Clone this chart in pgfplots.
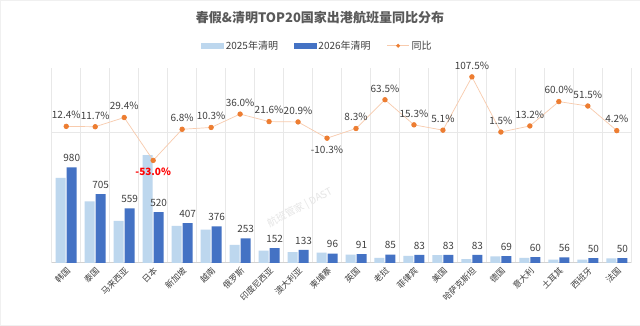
\documentclass[border=0pt]{standalone}
\usepackage{pgfplots}
\pgfplotsset{compat=1.18}
\usepackage{fontspec}
\setmainfont{Noto Sans CJK SC}
\definecolor{c25}{HTML}{BDD7EE}
\definecolor{c26}{HTML}{4472C4}
\definecolor{cor}{HTML}{ED7D31}
\definecolor{cline}{HTML}{F8CBAD}
\definecolor{txt}{HTML}{404040}
\definecolor{ttl}{HTML}{595959}
\definecolor{gridc}{HTML}{E8E8E8}
\begin{document}
\begin{tikzpicture}[x=1pt,y=1pt]
\path[draw=gray!12, fill=white] (0.5,-0.5) rectangle (639.5,-325.5);
\node[font=\bfseries\fontsize{13}{15}\selectfont, text=ttl] at (320,-18) {春假\&清明TOP20国家出港航班量同比分布};
\node[rotate=28, text=gray!20, font=\fontsize{10}{12}\selectfont] at (300,-208) {航班管家 | DAST};
\begin{axis}[at={(52pt,-263pt)}, anchor=south west, scale only axis,
  width=579pt, height=195pt,
  /pgf/number format/assume math mode=true,
  xmin=-0.5, xmax=19.5, ymin=0, ymax=2000,
  ybar=1pt, bar width=10pt,
  axis y line=none, axis x line*=bottom,
  x axis line style={draw=gray!35, line width=1pt},
  xtick={0,...,19},
  xticklabels={韩国,泰国,马来西亚,日本,新加坡,越南,俄罗斯,印度尼西亚,澳大利亚,柬埔寨,英国,老挝,菲律宾,美国,哈萨克斯坦,德国,意大利,土耳其,西班牙,法国},
  x tick label style={rotate=45, anchor=east, font=\fontsize{8.5}{10}\selectfont, text=txt, yshift=-6pt, xshift=1pt},
  major tick length=0, minor tick length=0,
  minor xtick={-0.5,0.5,...,19.5}, xminorgrids, minor grid style={gridc, line width=0.6pt},
  clip=false]
\addplot[fill=c25, draw=none] coordinates {(0,872) (1,631) (2,432) (3,1106) (4,381) (5,341) (6,186) (7,125) (8,110) (9,107) (10,84) (11,52) (12,72) (13,79) (14,40) (15,68) (16,53) (17,35) (18,33) (19,48)};
\addplot[fill=c26, draw=none, nodes near coords,
  every node near coord/.append style={font=\fontsize{10}{12}\selectfont, text=txt, yshift=2pt}]
  coordinates {(0,980) (1,705) (2,559) (3,520) (4,407) (5,376) (6,253) (7,152) (8,133) (9,96) (10,91) (11,85) (12,83) (13,83) (14,83) (15,69) (16,60) (17,56) (18,50) (19,50)};
\end{axis}
\begin{axis}[at={(52pt,-263pt)}, anchor=south west, scale only axis,
  width=579pt, height=195pt,
  /pgf/number format/assume math mode=true,
  xmin=-0.5, xmax=19.5, ymin=-250, ymax=125,
  hide axis, clip=false,
  legend style={at={(0.4585,1.1128)}, anchor=center, draw=none, fill=none,
    legend columns=3, font=\fontsize{10}{12}\selectfont, text=txt,
    /tikz/every even column/.append style={column sep=14pt}},
  legend cell align=left]
\addlegendimage{legend image code/.code={\fill[c25] (0pt,-2.2pt) rectangle (22pt,2.2pt);}}
\addlegendentry{2025年清明}
\addlegendimage{legend image code/.code={\fill[c26] (0pt,-2.2pt) rectangle (22pt,2.2pt);}}
\addlegendentry{2026年清明}
\addlegendimage{legend image code/.code={\draw[cline, line width=0.8pt] (0pt,0pt) -- (22pt,0pt); \fill[cor] (11pt,0pt) circle (1.8pt);}}
\addlegendentry{同比}
\draw[gridc, line width=1pt] (axis cs:-0.5,0) -- (axis cs:19.5,0);
\addplot[cline, line width=0.7pt, mark=*, mark size=2.3pt, mark options={fill=cor, draw=cor}, forget plot]
  coordinates {(0,12.4) (1,11.7) (2,29.4) (3,-53.0) (4,6.8) (5,10.3) (6,36.0) (7,21.6) (8,20.9) (9,-10.3) (10,8.3) (11,63.5) (12,15.3) (13,5.1) (14,107.5) (15,1.5) (16,13.2) (17,60.0) (18,51.5) (19,4.2)};
\addplot[draw=none, mark=none, forget plot,
  nodes near coords={\pgfmathprintnumber[fixed,fixed zerofill,precision=1]{\pgfplotspointmeta}\%},
  every node near coord/.append style={font=\fontsize{10}{12}\selectfont, text=txt, yshift=4pt}]
  coordinates {(0,12.4) (1,11.7) (2,29.4) (4,6.8) (5,10.3) (6,36.0) (7,21.6) (8,20.9) (10,8.3) (11,63.5) (12,15.3) (13,5.1) (14,107.5) (15,1.5) (16,13.2) (17,60.0) (18,51.5) (19,4.2)};
\addplot[draw=none, mark=none, forget plot,
  nodes near coords={\pgfmathprintnumber[fixed,fixed zerofill,precision=1]{\pgfplotspointmeta}\%},
  nodes near coords align={below},
  every node near coord/.append style={font=\fontsize{10}{12}\selectfont, text=txt, yshift=-4pt}]
  coordinates {(9,-10.3)};
\addplot[draw=none, mark=none, forget plot,
  nodes near coords={\pgfmathprintnumber[fixed,fixed zerofill,precision=1]{\pgfplotspointmeta}\%},
  nodes near coords align={below},
  every node near coord/.append style={font=\bfseries\fontsize{10}{12}\selectfont, text=red, yshift=-4pt}]
  coordinates {(3,-53.0)};
\end{axis}
\end{tikzpicture}
\end{document}
